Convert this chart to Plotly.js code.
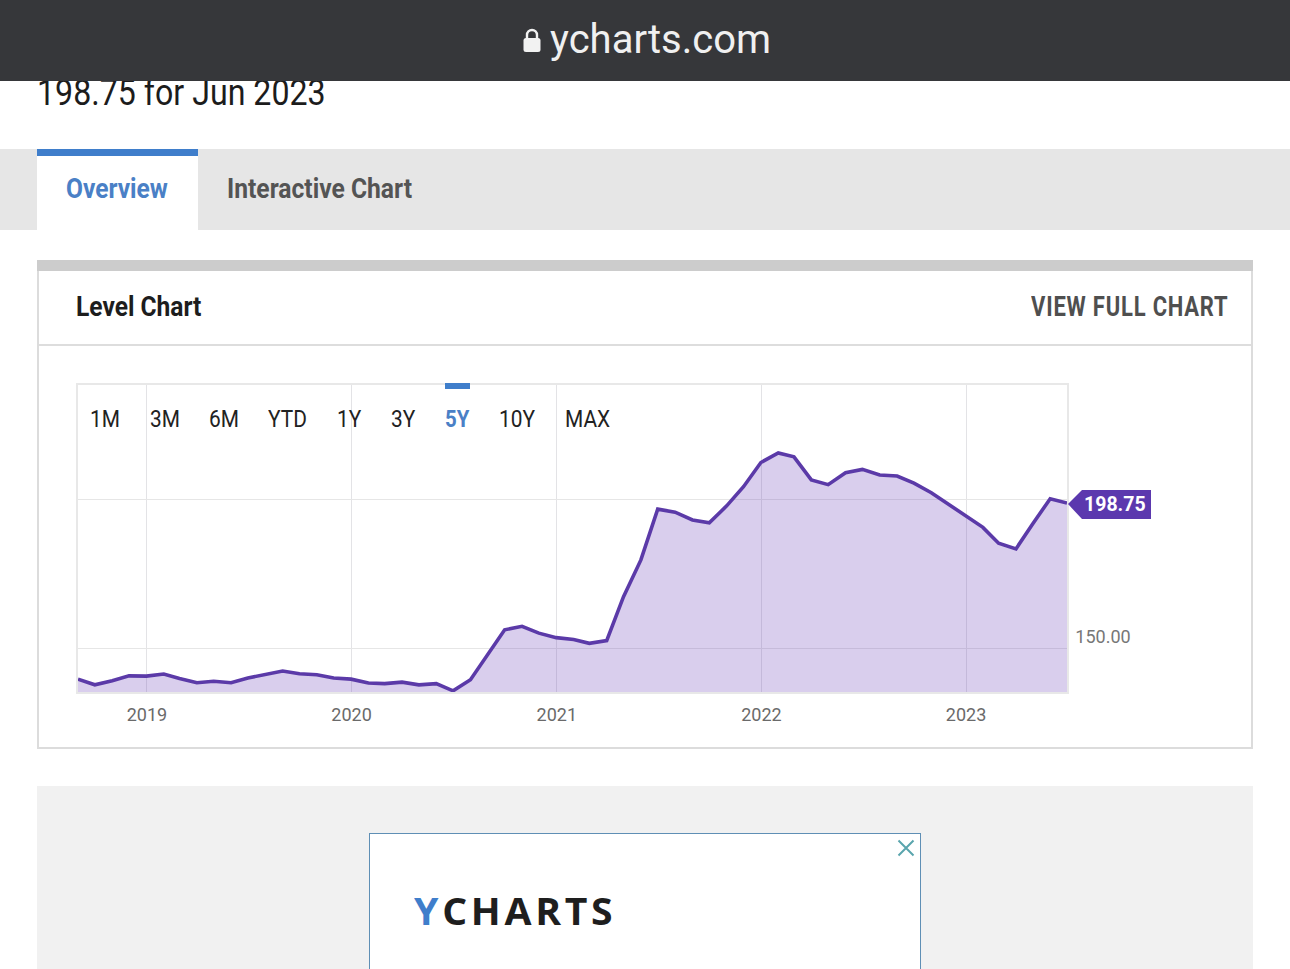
<!DOCTYPE html>
<html><head><meta charset="utf-8">
<script src="https://cdn.plot.ly/plotly-3.0.1.min.js"></script>
<style>
html,body{margin:0;padding:0;background:#fff;width:1290px;height:969px;overflow:hidden;font-family:Roboto,sans-serif}
.a{position:absolute;box-sizing:border-box}
.t{position:absolute;white-space:nowrap;transform-origin:left center;line-height:1}
</style></head><body>
<div class="t" style="left:37px;top:75px;font-size:36px;color:#1c1c1c;transform:scaleX(.893)">198.75 for Jun 2023</div>
<div class="a" style="left:0;top:0;width:1290px;height:81px;background:#36373a;z-index:5"></div>
<svg class="a" style="left:522px;top:27px;z-index:6" width="20" height="26" viewBox="0 0 20 26"><path d="M5 12V8a5 5 0 0 1 10 0v4" fill="none" stroke="#f2f2f2" stroke-width="2.4"/><rect x="1.5" y="11" width="17" height="14" rx="2.5" fill="#f2f2f2"/></svg>
<div class="t" style="left:550px;top:20px;font-size:40px;color:#f0f0f0;z-index:6;transform:scaleX(1)">ycharts.com</div>

<div class="a" style="left:0;top:149px;width:1290px;height:81px;background:#e6e6e6"></div>
<div class="a" style="left:37px;top:149px;width:161px;height:81px;background:#fff;border-top:7px solid #3f7ecb"></div>
<div class="t" style="left:66px;top:175px;font-size:28px;font-weight:700;color:#4a80c6;transform:scaleX(.877)">Overview</div>
<div class="t" style="left:227px;top:175px;font-size:28px;font-weight:700;color:#545454;transform:scaleX(.88)">Interactive Chart</div>

<div class="a" style="left:37px;top:260px;width:1216px;height:489px;border:2px solid #dcdcdc;border-top:none;background:#fff"></div>
<div class="a" style="left:37px;top:260px;width:1216px;height:11px;background:#cccccc"></div>
<div class="a" style="left:39px;top:344px;width:1212px;height:2px;background:#dddddd"></div>
<div class="t" style="left:76px;top:293px;font-size:28px;font-weight:700;color:#1d1d1d;transform:scaleX(.877)">Level Chart</div>
<div class="t" style="left:1031px;top:294px;font-size:27px;font-weight:700;color:#4f4f4f;letter-spacing:1px;transform:scaleX(.813)">VIEW FULL CHART</div>

<div class="a" style="left:37px;top:786px;width:1216px;height:183px;background:#f1f1f1"></div>
<div class="a" style="left:369px;top:833px;width:552px;height:140px;background:#fff;border:1.5px solid #5f8fb5"></div>
<svg class="a" style="left:897px;top:839px" width="18" height="18"><path d="M1.5 1.5L16.5 16.5M16.5 1.5L1.5 16.5" stroke="#5aa5ad" stroke-width="2"/></svg>
<div class="t" style="left:414px;top:891px;font-size:38px;font-weight:700;color:#1e1e1e;font-family:'Open Sans';letter-spacing:3.6px;transform:scaleX(1.03)"><span style="color:#3f7ecb">Y</span>CHARTS</div>

<div id="chart" class="a" style="left:0;top:0;width:1290px;height:969px;z-index:2"></div>

<div class="t" style="left:90px;top:407px;font-size:24px;color:#222;z-index:3;transform:scaleX(.87)">1M</div>
<div class="t" style="left:150px;top:407px;font-size:24px;color:#222;z-index:3;transform:scaleX(.87)">3M</div>
<div class="t" style="left:209px;top:407px;font-size:24px;color:#222;z-index:3;transform:scaleX(.87)">6M</div>
<div class="t" style="left:268px;top:407px;font-size:24px;color:#222;z-index:3;transform:scaleX(.87)">YTD</div>
<div class="t" style="left:337px;top:407px;font-size:24px;color:#222;z-index:3;transform:scaleX(.87)">1Y</div>
<div class="t" style="left:391px;top:407px;font-size:24px;color:#222;z-index:3;transform:scaleX(.87)">3Y</div>
<div class="t" style="left:445px;top:407px;font-size:24px;font-weight:700;color:#4a80c6;z-index:3;transform:scaleX(.85)">5Y</div>
<div class="t" style="left:499px;top:407px;font-size:24px;color:#222;z-index:3;transform:scaleX(.87)">10Y</div>
<div class="t" style="left:565px;top:407px;font-size:24px;color:#222;z-index:3;transform:scaleX(.87)">MAX</div>
<div class="a" style="left:445px;top:383px;width:25px;height:6px;background:#3f7ecb;z-index:3"></div>

<script>
var months = [
 "2018-08-31","2018-09-30","2018-10-31","2018-11-30","2018-12-31",
 "2019-01-31","2019-02-28","2019-03-31","2019-04-30","2019-05-31","2019-06-30","2019-07-31","2019-08-31","2019-09-30","2019-10-31","2019-11-30","2019-12-31",
 "2020-01-31","2020-02-29","2020-03-31","2020-04-30","2020-05-31","2020-06-30","2020-07-31","2020-08-31","2020-09-30","2020-10-31","2020-11-30","2020-12-31",
 "2021-01-31","2021-02-28","2021-03-31","2021-04-30","2021-05-31","2021-06-30","2021-07-31","2021-08-31","2021-09-30","2021-10-31","2021-11-30","2021-12-31",
 "2022-01-31","2022-02-28","2022-03-31","2022-04-30","2022-05-31","2022-06-30","2022-07-31","2022-08-31","2022-09-30","2022-10-31","2022-11-30","2022-12-31",
 "2023-01-31","2023-02-28","2023-03-31","2023-04-30","2023-05-31","2023-06-30"];
var levels = [
 139.8,137.9,139.3,140.9,140.8,
 141.5,140.0,138.6,139.1,138.6,140.2,141.3,142.5,141.6,141.3,140.2,139.8,
 138.5,138.3,138.8,137.9,138.3,135.9,139.6,147.9,156.3,157.5,155.2,153.7,
 153.1,151.8,152.7,167.4,179.7,196.7,195.7,193.1,192.1,197.8,204.2,212.3,
 215.5,214.2,206.5,204.9,208.9,210.0,208.1,207.8,205.4,202.2,198.3,194.5,
 190.6,185.3,183.4,191.8,200.2,198.75];
var yearTicks = ["2019-01-01","2020-01-01","2021-01-01","2022-01-01","2023-01-01"];
var yearLabels = ["2019","2020","2021","2022","2023"];
var levelTicks = [150,200];
var levelLabels = ["150.00",""];
var yRange = [135.5,238.25];
var lastDate = months[months.length-1], lastLevel = levels[levels.length-1];
var lastFrac = (lastLevel-yRange[0])/(yRange[1]-yRange[0]);

Plotly.newPlot("chart",[{
  x:months,y:levels,type:"scatter",mode:"lines",
  line:{color:"#5b3aa8",width:3.6,shape:"linear"},
  fill:"tozeroy",fillcolor:"rgba(103,58,183,0.25)",hoverinfo:"x+y"
}],{
  width:1290,height:969,showlegend:false,
  paper_bgcolor:"rgba(0,0,0,0)",plot_bgcolor:"rgba(0,0,0,0)",
  margin:{l:78,r:223,t:385,b:277,pad:0},
  xaxis:{type:"date",range:["2018-08-31",lastDate],tickvals:yearTicks,ticktext:yearLabels,
    showgrid:true,gridcolor:"#e3e3e6",gridwidth:1.4,zeroline:false,
    showline:true,mirror:true,linecolor:"#e8e8e8",linewidth:1.5,ticks:"",ticklabelstandoff:6,
    tickfont:{family:"Roboto",size:18,color:"#6a6a6a"}},
  yaxis:{range:yRange,side:"right",tickvals:levelTicks,ticktext:levelLabels,
    showgrid:true,gridcolor:"#e6e6e6",gridwidth:1.4,zeroline:false,
    showline:true,mirror:true,linecolor:"#e8e8e8",linewidth:1.5,ticks:"",ticklabelshift:-12,ticklabelstandoff:3,
    tickfont:{family:"Roboto",size:18,color:"#777"}},
  shapes:[{type:"path",xref:"paper",yref:"paper",xsizemode:"pixel",ysizemode:"pixel",xanchor:1,yanchor:lastFrac,
    path:"M 1 -1 L 15 13 L 84 13 L 84 -16 L 15 -16 Z",fillcolor:"#5b38ae",line:{width:0},layer:"above"}],
  annotations:[{x:1,y:lastFrac,xref:"paper",yref:"paper",text:"<b>"+lastLevel.toFixed(2)+"</b>",showarrow:false,
    xanchor:"left",yanchor:"middle",xshift:15,yshift:-1,font:{family:"Roboto",size:19.5,color:"#fff"}}]
},{displayModeBar:false});
</script>
</body></html>
